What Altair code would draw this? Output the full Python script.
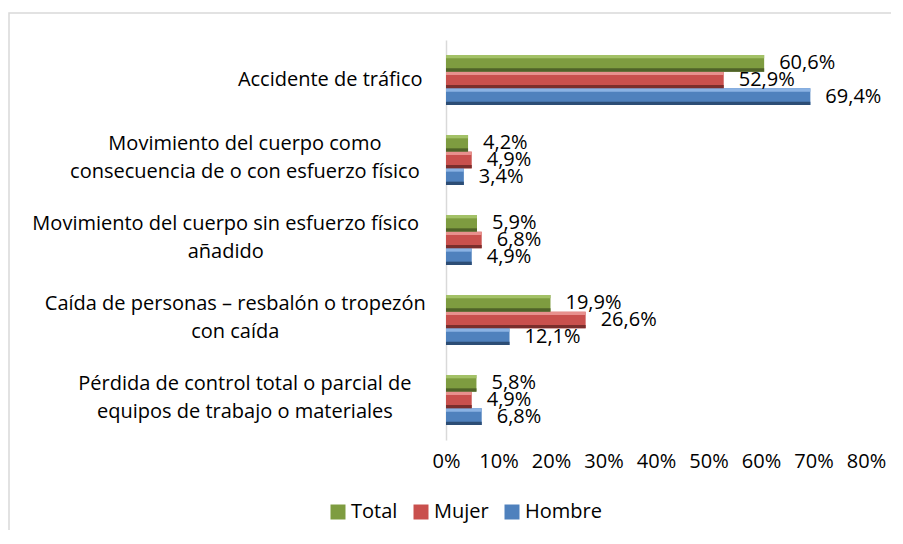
import altair as alt
import pandas as pd

categories = [
    "Accidente de tráfico",
    "Movimiento del cuerpo como|consecuencia de o con esfuerzo físico",
    "Movimiento del cuerpo sin esfuerzo físico|añadido",
    "Caída de personas – resbalón o tropezón|con caída",
    "Pérdida de control total o parcial de|equipos de trabajo o materiales",
]
series = ["Total", "Mujer", "Hombre"]
total = [60.6, 4.2, 5.9, 19.9, 5.8]
mujer = [52.9, 4.9, 6.8, 26.6, 4.9]
hombre = [69.4, 3.4, 4.9, 12.1, 6.8]
x_ticks = [0, 10, 20, 30, 40, 50, 60, 70, 80]

main_colors = ["#7E9C40", "#C9504D", "#4F81BD"]
light_colors = ["#A3C167", "#E8908D", "#8AB2E3"]
dark_colors = ["#4F6228", "#7A2E2C", "#2C4D75"]

# sub-slots inside each series band, for the bevel strips
parts = ["a", "b", "c", "d", "e"]
sub_domain = [f"{s}_{p}" for s in series for p in parts]

FONT = "Open Sans"
FS = 20

rows = []
for i, c in enumerate(categories):
    for s, vals in zip(series, [total, mujer, hombre]):
        rows.append({"cat": c, "serie": s, "v": vals[i]})
df = pd.DataFrame(rows)

single = "indexof(datum.value, '|') < 0"
pad_expr = (
    f"{single} ? 24 : 24 + 0.5 * 9.6 * max(length(split(datum.value, '|')[0]), "
    "length(split(datum.value, '|')[1]))"
)

y_enc = alt.Y(
    "cat:N",
    sort=categories,
    scale=alt.Scale(paddingInner=0.375, paddingOuter=0.1875),
    axis=alt.Axis(
        title=None,
        labelExpr="split(datum.value, '|')",
        labelAlign={"expr": f"{single} ? 'right' : 'center'"},
        labelPadding={"expr": pad_expr},
        labelOffset={"expr": f"{single} ? 0 : -16"},
        labelBaseline="middle",
        labelFont=FONT,
        labelFontSize=FS,
        labelColor="black",
        labelLineHeight=28,
        labelLimit=600,
        ticks=False,
        domainColor="#D9D9D9",
        domainWidth=1.5,
        grid=False,
    ),
)
yoff = alt.YOffset(
    "serie:N", sort=series,
    scale=alt.Scale(type="band", domain=series, paddingInner=0, paddingOuter=0),
)

x_axis = alt.X(
    "v:Q",
    scale=alt.Scale(domain=[0, 80]),
    axis=alt.Axis(
        title=None,
        values=x_ticks,
        labelExpr="datum.value + '%'",
        labelOverlap=False,
        labelFlush=False,
        domain=False,
        ticks=False,
        grid=False,
        labelPadding=11,
        labelFont=FONT,
        labelFontSize=FS,
        labelColor="black",
    ),
)
x_plain = alt.X("v:Q")

base = alt.Chart(df).encode(y=y_enc)

main = base.mark_bar().encode(
    x=x_axis,
    yOffset=yoff,
    color=alt.Color(
        "serie:N",
        sort=series,
        scale=alt.Scale(domain=series, range=main_colors),
        legend=alt.Legend(
            title=None,
            orient="none",
            direction="horizontal",
            legendX=-118,
            legendY=462,
            symbolType="square",
            symbolSize=225,
            symbolStrokeWidth=0,
            labelFont=FONT,
            labelFontSize=FS,
            labelColor="black",
            labelOffset=3,
            columnPadding=13,
        ),
    ),
)


def strip(part, colors):
    return base.mark_bar().transform_calculate(
        sub=f"datum.serie + '_{part}'"
    ).encode(
        x=x_plain,
        yOffset=alt.YOffset("sub:N", scale=alt.Scale(type="band", domain=sub_domain, paddingInner=0, paddingOuter=0)),
        color=alt.Color("serie:N", scale=alt.Scale(domain=series, range=colors), legend=None),
    )


hl = strip("a", light_colors)
dk = strip("e", dark_colors)

labels = base.mark_text(
    align="left", baseline="middle", dx=15, font=FONT, fontSize=FS, color="black"
).transform_calculate(
    lbl="replace(format(datum.v, '.1f'), '.', ',') + '%'"
).encode(x=x_plain, yOffset=yoff, text="lbl:N")

frame = alt.Chart(pd.DataFrame({"a": [0]})).mark_rect(
    fill="transparent", stroke="#D9D9D9", strokeWidth=1.5
).encode(
    x=alt.value(-437), x2=alt.value(470), y=alt.value(-27), y2=alt.value(520)
)

chart = alt.layer(frame, main, hl, dk, labels).resolve_scale(
    color="independent", yOffset="independent"
).properties(
    width=420,
    height=400,
    autosize=alt.AutoSizeParams(type="none"),
    padding={"left": 438, "top": 32, "right": 25, "bottom": 90},
).configure_view(strokeWidth=0)

chart.save("out.html", embed_options={"renderer": "svg", "actions": False})
